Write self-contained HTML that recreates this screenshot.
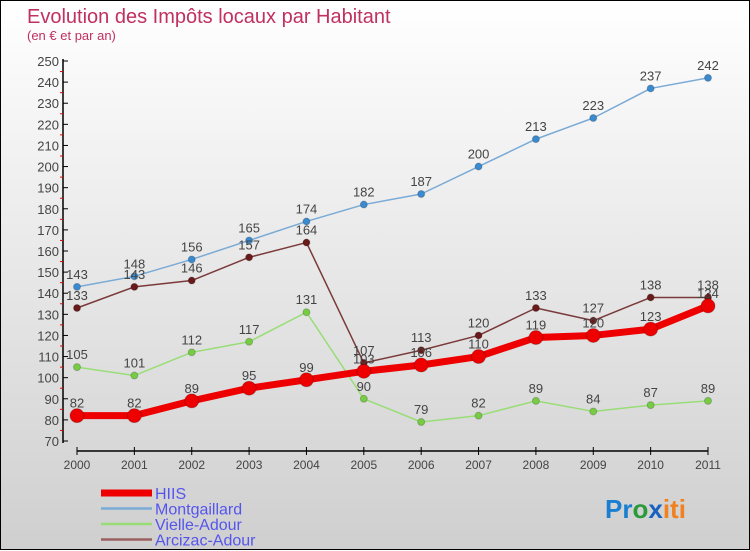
<!DOCTYPE html>
<html><head><meta charset="utf-8"><style>
body{margin:0;width:750px;height:550px;overflow:hidden;font-family:"Liberation Sans",sans-serif}
#wrap{position:relative;width:748px;height:548px;border:1px solid #000;background:linear-gradient(#fff,#cfcfcf)}
svg{position:absolute;left:0;top:0}
</style></head><body>
<div id="wrap">
<svg id="chart" width="750" height="550">
<text x="26" y="22" font-size="20" fill="#c03060">Evolution des Impôts locaux par Habitant</text>
<text x="26" y="39" font-size="13" fill="#c03060">(en € et par an)</text>
<text x="604" y="517" font-size="26" font-weight="bold"><tspan fill="#1a7fd0">Pr</tspan><tspan fill="#2a9a3a">o</tspan><tspan fill="#1a60c0">x</tspan><tspan fill="#f08020">iti</tspan></text>
</svg>
</div>
<script>
const years=["2000","2001","2002","2003","2004","2005","2006","2007","2008","2009","2010","2011"];
const yTicks=[70,80,90,100,110,120,130,140,150,160,170,180,190,200,210,220,230,240,250];
const hiis=[82,82,89,95,99,103,106,110,119,120,123,134];
const montgaillard=[143,148,156,165,174,182,187,200,213,223,237,242];
const vielle=[105,101,112,117,131,90,79,82,89,84,87,89];
const arcizac=[133,143,146,157,164,107,113,120,133,127,138,138];
const svg=document.getElementById('chart');
const NS='http://www.w3.org/2000/svg';
function y(v){return 60+(250-v)*380/180;}
function x(i){return 76+i*(707-76)/(years.length-1);}
function mk(t,a){const e=document.createElementNS(NS,t);for(const k in a)e.setAttribute(k,a[k]);svg.appendChild(e);return e;}
// axes
let ax=mk('line',{x1:62,y1:58,x2:62,y2:442,stroke:'#000','stroke-width':1.5});


let xa=mk('line',{x1:76,y1:450,x2:707,y2:450,stroke:'#000','stroke-width':1.5});


yTicks.forEach(v=>{
  mk('line',{x1:62,y1:y(v),x2:67,y2:y(v),stroke:'#000'});
  if(v<250) mk('line',{x1:59,y1:y(v+5),x2:62,y2:y(v+5),stroke:'#e00'});
  const t=mk('text',{x:58,y:y(v)+5,'text-anchor':'end','font-size':13,fill:'#444'});
  t.textContent=v;
  
  
});
years.forEach((yr,i)=>{
  mk('line',{x1:x(i),y1:446,x2:x(i),y2:454,stroke:'#000'});
  const t=mk('text',{x:x(i),y:468,'text-anchor':'middle','font-size':12,fill:'#444'});
  t.textContent=yr;
  
  
});
function series(data,color,dot,w,r,name){
  const p=mk('polyline',{points:data.map((v,i)=>x(i)+','+y(v)).join(' '),fill:'none',stroke:color,'stroke-width':w,'stroke-linejoin':'round'});
  
  
  data.forEach((v,i)=>{
    const c=mk('circle',{cx:x(i),cy:y(v),r:r,fill:dot,stroke:'#0003'});
    
    
    const t=mk('text',{x:x(i),y:y(v)-8,'text-anchor':'middle','font-size':13,fill:'#444'});
    t.textContent=v;
    
    
  });
}
series(montgaillard,'#7aaad6','#3a8ad0',1.5,3.5,'montgaillard');
series(vielle,'#99dd77','#77cc44',1.5,3.5,'vielle-adour');
series(arcizac,'#7a3a3a','#6a1a1a',1.5,3.5,'arcizac-adour');
series(hiis,'#ee0000','#ee0000',7,7,'hiis');
const leg=[["HIIS",'#ee0000',7],["Montgaillard",'#7aaad6',2.5],["Vielle-Adour",'#99dd77',2.5],["Arcizac-Adour",'#9a6060',2.5]];
leg.forEach((l,i)=>{
  const yy=492+i*15.5;
  const s=mk('line',{x1:100,y1:yy,x2:151,y2:yy,stroke:l[1],'stroke-width':l[2]});
  
  
  const t=mk('text',{x:154,y:yy+6,'font-size':16,fill:'#5555ee'});
  t.textContent=l[0];
  
  
});
</script>
</body></html>
